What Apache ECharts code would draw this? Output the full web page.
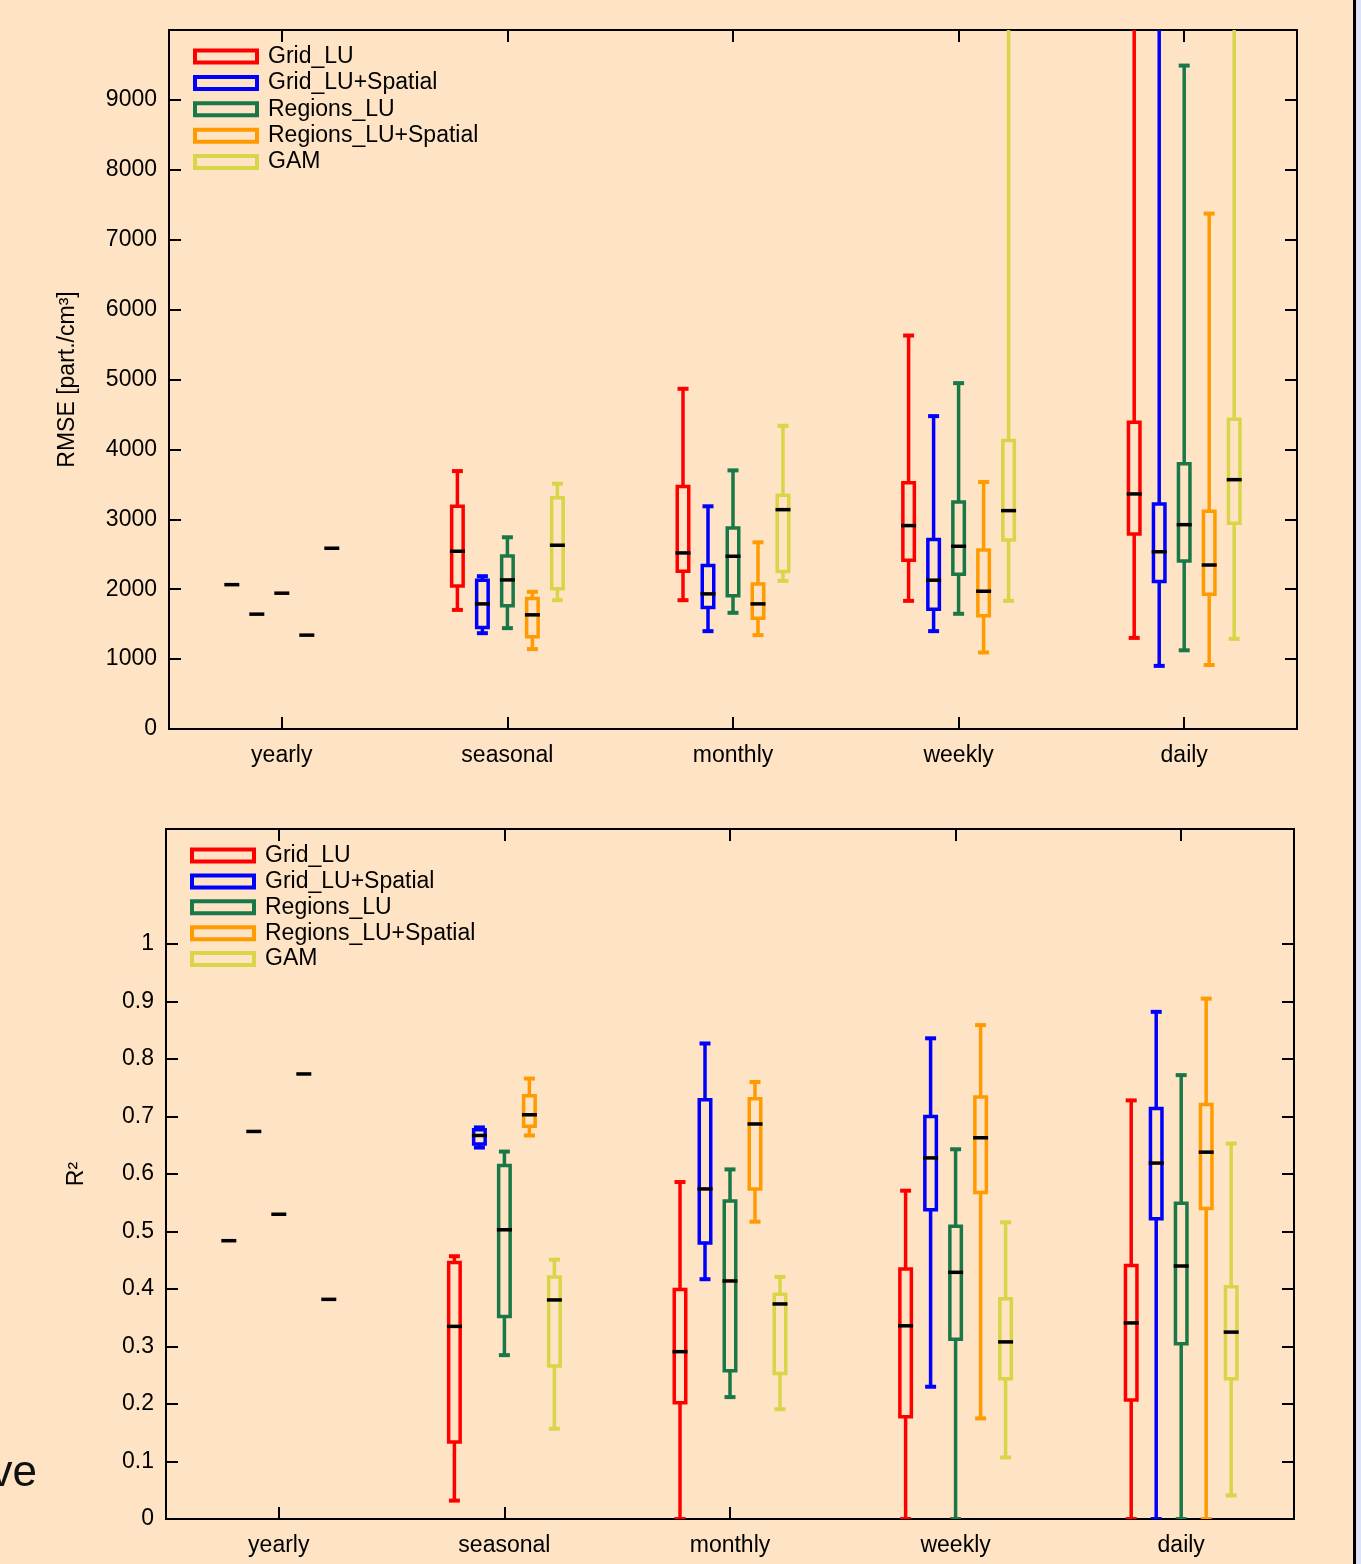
<!DOCTYPE html>
<html>
<head>
<meta charset="utf-8">
<script src="https://cdn.jsdelivr.net/npm/echarts@6/dist/echarts.min.js"></script>
<style>
html,body{margin:0;padding:0;background:#FEE3C4;}
#chart{width:1361px;height:1564px;}
</style>
</head>
<body>
<div id="chart"></div>
<script>
// ---- DATA ----
const categories = ['yearly', 'seasonal', 'monthly', 'weekly', 'daily'];
const seriesNames = ['Grid_LU', 'Grid_LU+Spatial', 'Regions_LU', 'Regions_LU+Spatial', 'GAM'];
const seriesColors = ['#FF0000', '#0000FF', '#1A7848', '#FF9B00', '#D8D548'];

// rows per category: [whiskerLow, boxLow, median, boxHigh, whiskerHigh]
const rmseGridLU       = [[null, null, 2065, null, null], [1704, 2047, 2543, 3186, 3690], [1843, 2257, 2519, 3471, 4867], [1833, 2414, 2910, 3524, 5629], [1303, 2791, 3363, 4387, 11000]];
const rmseGridLUSp     = [[null, null, 1643, null, null], [1371, 1452, 1790, 2129, 2186], [1400, 1738, 1933, 2338, 3186], [1400, 1714, 2129, 2710, 4476], [903, 2110, 2536, 3219, 11000]];
const rmseRegionsLU    = [[null, null, 1943, null, null], [1443, 1762, 2133, 2476, 2743], [1662, 1905, 2471, 2876, 3700], [1648, 2214, 2614, 3248, 4948], [1126, 2404, 2923, 3796, 9491]];
const rmseRegionsLUSp  = [[null, null, 1343, null, null], [1143, 1319, 1633, 1867, 1962], [1343, 1586, 1790, 2076, 2671], [1095, 1619, 1971, 2562, 3533], [916, 1926, 2346, 3114, 7373]];
const rmseGAM          = [[null, null, 2586, null, null], [1843, 2005, 2629, 3310, 3510], [2119, 2252, 3138, 3343, 4338], [1833, 2705, 3124, 4129, 11000], [1290, 2943, 3567, 4433, 11000]];

const r2GridLU         = [[null, null, 0.484, null, null], [0.032, 0.134, 0.335, 0.446, 0.457], [0, 0.202, 0.291, 0.399, 0.586], [0, 0.178, 0.336, 0.435, 0.571], [0, 0.207, 0.341, 0.441, 0.728]];
const r2GridLUSp       = [[null, null, 0.674, null, null], [0.646, 0.652, 0.667, 0.677, 0.681], [0.417, 0.480, 0.574, 0.729, 0.827], [0.230, 0.538, 0.628, 0.700, 0.836], [0, 0.522, 0.619, 0.714, 0.882]];
const r2RegionsLU      = [[null, null, 0.530, null, null], [0.285, 0.352, 0.503, 0.615, 0.639], [0.212, 0.258, 0.414, 0.553, 0.608], [0, 0.3125, 0.429, 0.509, 0.643], [0, 0.305, 0.440, 0.549, 0.772]];
const r2RegionsLUSp    = [[null, null, 0.774, null, null], [0.667, 0.683, 0.703, 0.736, 0.766], [0.517, 0.574, 0.687, 0.731, 0.760], [0.175, 0.568, 0.663, 0.734, 0.859], [0, 0.540, 0.638, 0.721, 0.905]];
const r2GAM            = [[null, null, 0.382, null, null], [0.157, 0.266, 0.381, 0.421, 0.451], [0.191, 0.253, 0.374, 0.391, 0.421], [0.107, 0.244, 0.308, 0.383, 0.516], [0.041, 0.244, 0.325, 0.404, 0.653]];

const rmseTicks = [0, 1000, 2000, 3000, 4000, 5000, 6000, 7000, 8000, 9000];
const r2Ticks = [0, 0.1, 0.2, 0.3, 0.4, 0.5, 0.6, 0.7, 0.8, 0.9, 1];

const rmseSets = [rmseGridLU, rmseGridLUSp, rmseRegionsLU, rmseRegionsLUSp, rmseGAM];
const r2Sets = [r2GridLU, r2GridLUSp, r2RegionsLU, r2RegionsLUSp, r2GAM];

// ---- RENDER ----
const FONT = '"Liberation Sans", Arial, Helvetica, sans-serif';
const FS = 23;

function makeRender(si, rows) {
  return function (params, api) {
    const row = rows[params.dataIndex];
    const cat = api.value(0);
    const band = api.size([1, 0])[0];
    const cx = api.coord([cat, 0])[0] + (si - 2) * band * 0.1108;
    const Y = v => api.coord([cat, v])[1];
    const color = seriesColors[si];
    const [lo, q1, med, q3, hi] = row;
    const ch = [];
    const lw = 3.5;
    if (lo != null) {
      ch.push({ type: 'line', shape: { x1: cx, y1: Y(lo), x2: cx, y2: Y(q1) }, style: { stroke: color, lineWidth: lw } });
      ch.push({ type: 'line', shape: { x1: cx, y1: Y(q3), x2: cx, y2: Y(hi) }, style: { stroke: color, lineWidth: lw } });
      ch.push({ type: 'line', shape: { x1: cx - 5.5, y1: Y(lo), x2: cx + 5.5, y2: Y(lo) }, style: { stroke: color, lineWidth: 4 } });
      ch.push({ type: 'line', shape: { x1: cx - 5.5, y1: Y(hi), x2: cx + 5.5, y2: Y(hi) }, style: { stroke: color, lineWidth: 4 } });
      ch.push({ type: 'rect', shape: { x: cx - 5.75, y: Y(q3), width: 11.5, height: Y(q1) - Y(q3) }, style: { stroke: color, fill: 'none', lineWidth: lw } });
    }
    ch.push({ type: 'line', shape: { x1: cx - 7.5, y1: Y(med), x2: cx + 7.5, y2: Y(med) }, style: { stroke: '#000', lineWidth: 3.5 } });
    return { type: 'group', children: ch };
  };
}

function makeSeries(sets, gi) {
  return sets.map((rows, si) => ({
    type: 'custom',
    name: seriesNames[si],
    xAxisIndex: gi * 2,
    yAxisIndex: gi * 2,
    clip: true,
    itemStyle: { color: seriesColors[si] },
    data: rows.map((r, i) => [i, r[2]]),
    renderItem: makeRender(si, rows),
    silent: true
  }));
}

function legendFor(left, top, gap) {
  return {
    left: left, top: top, orient: 'vertical', itemWidth: 62, itemHeight: 12, itemGap: gap,
    selectedMode: false,
    textStyle: { fontSize: FS, fontFamily: FONT, color: '#000', lineHeight: 20, padding: [0, 0, 0, 6] },
    data: seriesNames.map((n, i) => ({
      name: n, icon: 'rect',
      itemStyle: { color: 'rgba(0,0,0,0)', borderColor: seriesColors[i], borderWidth: 4 }
    }))
  };
}

const labelStyle = { fontSize: FS, fontFamily: FONT, color: '#000' };
const tickStyle = { show: true, inside: true, length: 12, lineStyle: { color: '#000', width: 2 } };
const noLine = { show: false, onZero: false };

function xAxesFor(gi) {
  return [
    { type: 'category', gridIndex: gi, data: categories, position: 'bottom',
      axisLine: noLine, axisTick: Object.assign({ alignWithLabel: true }, tickStyle),
      axisLabel: Object.assign({ show: true, margin: 15 }, labelStyle), splitLine: { show: false } },
    { type: 'category', gridIndex: gi, data: categories, position: 'top',
      axisLine: noLine, axisTick: Object.assign({ alignWithLabel: true }, tickStyle),
      axisLabel: { show: true, formatter: () => '', color: 'rgba(0,0,0,0)' }, splitLine: { show: false } }
  ];
}

function yAxesFor(gi, max, interval, ticks, name, gap, fmt) {
  const common = { type: 'value', gridIndex: gi, min: 0, max: max, interval: interval, splitLine: { show: false }, axisLine: noLine };
  return [
    Object.assign({}, common, { position: 'left', name: name, nameLocation: 'middle', nameGap: gap,
      nameTextStyle: { fontSize: FS, fontFamily: FONT, color: '#000' },
      axisTick: Object.assign({ customValues: ticks }, tickStyle),
      axisLabel: Object.assign({ show: true, margin: 12, customValues: ticks, formatter: fmt }, labelStyle) }),
    Object.assign({}, common, { position: 'right',
      axisTick: Object.assign({ customValues: ticks }, tickStyle),
      axisLabel: { show: false } })
  ];
}

const chart = echarts.init(document.getElementById('chart'), null, { renderer: 'canvas' });
chart.setOption({
  backgroundColor: '#FEE3C4',
  animation: false,
  textStyle: { fontFamily: FONT },
  grid: [
    { left: 169, top: 30, width: 1128, height: 699, show: true, borderColor: '#000', borderWidth: 2, backgroundColor: 'transparent' },
    { left: 166, top: 829, width: 1128, height: 690, show: true, borderColor: '#000', borderWidth: 2, backgroundColor: 'transparent' }
  ],
  legend: [legendFor(188, 40, 3.4), legendFor(185, 839, 2.9)],
  xAxis: [].concat(xAxesFor(0), xAxesFor(1)),
  yAxis: [].concat(
    yAxesFor(0, 10000, 1000, rmseTicks, 'RMSE [part./cm\u00B3]', 90, v => (v <= 9000 ? String(v) : '')),
    yAxesFor(1, 1.2, 0.1, r2Ticks, 'R\u00B2', 78, v => (v <= 1.0001 ? String(Number(v.toFixed(1))) : ''))
  ),
  series: [].concat(makeSeries(rmseSets, 0), makeSeries(r2Sets, 1)),
  graphic: [
    { type: 'rect', shape: { x: 1353, y: 0, width: 3, height: 1564 }, style: { fill: '#000' }, z: 100 },
    { type: 'rect', shape: { x: 1356, y: 0, width: 5, height: 1564 }, style: { fill: '#DCE3F7' }, z: 100 },
    { type: 'text', x: -9.5, y: 1452, style: { text: 've', fontSize: 44, fontFamily: FONT, fill: '#111', verticalAlign: 'top' }, z: 100 }
  ]
});
</script>
</body>
</html>
